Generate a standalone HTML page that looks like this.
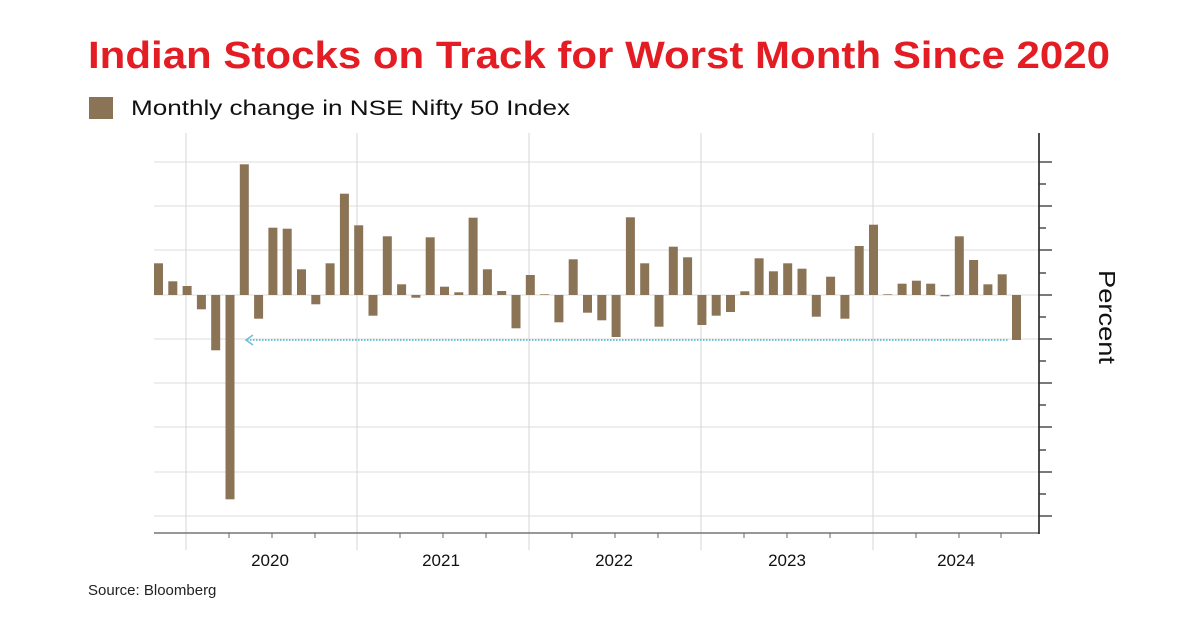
<!DOCTYPE html>
<html><head><meta charset="utf-8"><style>
html,body{margin:0;padding:0;background:#fff;}
svg{display:block;font-family:"Liberation Sans",sans-serif;}
</style></head><body>
<svg width="1200" height="628" viewBox="0 0 1200 628" xmlns="http://www.w3.org/2000/svg">
<text x="599" y="68" text-anchor="middle" font-size="38" font-weight="bold" fill="#e31d23" textLength="1022" lengthAdjust="spacingAndGlyphs">Indian Stocks on Track for Worst Month Since 2020</text>
<rect x="89" y="97" width="24" height="22" fill="#8b7355"/>
<text x="131" y="115" font-size="21" fill="#111" textLength="439" lengthAdjust="spacingAndGlyphs">Monthly change in NSE Nifty 50 Index</text>
<g stroke="#dcdcdc" stroke-width="1">
<line x1="154" y1="162" x2="1039" y2="162"/><line x1="154" y1="206" x2="1039" y2="206"/>
<line x1="154" y1="250" x2="1039" y2="250"/><line x1="154" y1="295" x2="1039" y2="295"/>
<line x1="154" y1="339" x2="1039" y2="339"/><line x1="154" y1="383" x2="1039" y2="383"/>
<line x1="154" y1="427" x2="1039" y2="427"/><line x1="154" y1="472" x2="1039" y2="472"/>
<line x1="154" y1="516" x2="1039" y2="516"/>
</g>
<g stroke="#d4d4d4" stroke-width="1">
<line x1="186" y1="133" x2="186" y2="550"/><line x1="357" y1="133" x2="357" y2="550"/>
<line x1="529" y1="133" x2="529" y2="550"/><line x1="701" y1="133" x2="701" y2="550"/>
<line x1="873" y1="133" x2="873" y2="550"/>
</g>
<line x1="154" y1="533" x2="1039" y2="533" stroke="#777" stroke-width="1.5"/>
<g stroke="#666" stroke-width="1">
<line x1="229" y1="533" x2="229" y2="538"/><line x1="272" y1="533" x2="272" y2="538"/><line x1="315" y1="533" x2="315" y2="538"/>
<line x1="400" y1="533" x2="400" y2="538"/><line x1="443" y1="533" x2="443" y2="538"/><line x1="486" y1="533" x2="486" y2="538"/>
<line x1="572" y1="533" x2="572" y2="538"/><line x1="615" y1="533" x2="615" y2="538"/><line x1="658" y1="533" x2="658" y2="538"/>
<line x1="744" y1="533" x2="744" y2="538"/><line x1="787" y1="533" x2="787" y2="538"/><line x1="830" y1="533" x2="830" y2="538"/>
<line x1="916" y1="533" x2="916" y2="538"/><line x1="959" y1="533" x2="959" y2="538"/><line x1="1001" y1="533" x2="1001" y2="538"/>
</g>
<line x1="1039" y1="133" x2="1039" y2="534" stroke="#111" stroke-width="1.5"/>
<g stroke="#333" stroke-width="1.3">
<line x1="1039" y1="162" x2="1052" y2="162"/><line x1="1039" y1="184" x2="1046" y2="184"/>
<line x1="1039" y1="206" x2="1052" y2="206"/><line x1="1039" y1="228" x2="1046" y2="228"/>
<line x1="1039" y1="250" x2="1052" y2="250"/><line x1="1039" y1="273" x2="1046" y2="273"/>
<line x1="1039" y1="295" x2="1052" y2="295"/><line x1="1039" y1="317" x2="1046" y2="317"/>
<line x1="1039" y1="339" x2="1052" y2="339"/><line x1="1039" y1="361" x2="1046" y2="361"/>
<line x1="1039" y1="383" x2="1052" y2="383"/><line x1="1039" y1="405" x2="1046" y2="405"/>
<line x1="1039" y1="427" x2="1052" y2="427"/><line x1="1039" y1="450" x2="1046" y2="450"/>
<line x1="1039" y1="472" x2="1052" y2="472"/><line x1="1039" y1="494" x2="1046" y2="494"/>
<line x1="1039" y1="516" x2="1052" y2="516"/>
</g>
<text transform="translate(1099,317) rotate(90)" text-anchor="middle" font-size="23" fill="#111" textLength="94" lengthAdjust="spacingAndGlyphs">Percent</text>
<g fill="#8b7355">
<rect x="154.0" y="263.3" width="9" height="31.7"/>
<rect x="168.3" y="281.3" width="9" height="13.7"/>
<rect x="182.6" y="286" width="9" height="9"/>
<rect x="196.9" y="295" width="9" height="14.3"/>
<rect x="211.2" y="295" width="9" height="55.3"/>
<rect x="225.5" y="295" width="9" height="204.3"/>
<rect x="239.8" y="164.3" width="9" height="130.7"/>
<rect x="254.1" y="295" width="9" height="23.7"/>
<rect x="268.4" y="227.7" width="9" height="67.3"/>
<rect x="282.7" y="228.7" width="9" height="66.3"/>
<rect x="297.0" y="269.3" width="9" height="25.7"/>
<rect x="311.3" y="295" width="9" height="9.3"/>
<rect x="325.6" y="263.3" width="9" height="31.7"/>
<rect x="339.9" y="193.7" width="9" height="101.3"/>
<rect x="354.2" y="225.3" width="9" height="69.7"/>
<rect x="368.5" y="295" width="9" height="20.7"/>
<rect x="382.8" y="236.3" width="9" height="58.7"/>
<rect x="397.1" y="284.3" width="9" height="10.7"/>
<rect x="411.4" y="295" width="9" height="2.7"/>
<rect x="425.7" y="237.3" width="9" height="57.7"/>
<rect x="440.0" y="286.7" width="9" height="8.3"/>
<rect x="454.3" y="292.3" width="9" height="2.7"/>
<rect x="468.6" y="217.7" width="9" height="77.3"/>
<rect x="482.9" y="269.3" width="9" height="25.7"/>
<rect x="497.2" y="291" width="9" height="4"/>
<rect x="511.5" y="295" width="9" height="33.3"/>
<rect x="525.8" y="275" width="9" height="20"/>
<rect x="540.1" y="294.3" width="9" height="0.7"/>
<rect x="554.4" y="295" width="9" height="27.3"/>
<rect x="568.7" y="259.3" width="9" height="35.7"/>
<rect x="583.0" y="295" width="9" height="17.7"/>
<rect x="597.3" y="295" width="9" height="25.3"/>
<rect x="611.6" y="295" width="9" height="42"/>
<rect x="625.9" y="217.3" width="9" height="77.7"/>
<rect x="640.2" y="263.3" width="9" height="31.7"/>
<rect x="654.5" y="295" width="9" height="31.7"/>
<rect x="668.8" y="246.7" width="9" height="48.3"/>
<rect x="683.1" y="257.3" width="9" height="37.7"/>
<rect x="697.4" y="295" width="9" height="30"/>
<rect x="711.7" y="295" width="9" height="20.7"/>
<rect x="726.0" y="295" width="9" height="17"/>
<rect x="740.3" y="291.3" width="9" height="3.7"/>
<rect x="754.6" y="258.3" width="9" height="36.7"/>
<rect x="768.9" y="271.3" width="9" height="23.7"/>
<rect x="783.2" y="263.3" width="9" height="31.7"/>
<rect x="797.5" y="268.7" width="9" height="26.3"/>
<rect x="811.8" y="295" width="9" height="21.7"/>
<rect x="826.1" y="276.7" width="9" height="18.3"/>
<rect x="840.4" y="295" width="9" height="23.7"/>
<rect x="854.7" y="246" width="9" height="49"/>
<rect x="869.0" y="224.7" width="9" height="70.3"/>
<rect x="883.3" y="294.3" width="9" height="0.7"/>
<rect x="897.6" y="283.7" width="9" height="11.3"/>
<rect x="911.9" y="280.7" width="9" height="14.3"/>
<rect x="926.2" y="283.7" width="9" height="11.3"/>
<rect x="940.5" y="295" width="9" height="1.3"/>
<rect x="954.8" y="236.3" width="9" height="58.7"/>
<rect x="969.1" y="260" width="9" height="35"/>
<rect x="983.4" y="284.3" width="9" height="10.7"/>
<rect x="997.7" y="274.3" width="9" height="20.7"/>
<rect x="1012.0" y="295" width="9" height="45"/>
</g>
<line x1="247" y1="340" x2="1009" y2="340" stroke="#6fbfd8" stroke-width="2" stroke-dasharray="1.5 1.5"/>
<polyline points="253,335 246,340 253,345" fill="none" stroke="#6fbfd8" stroke-width="1.5"/>
<g font-size="17" fill="#111" text-anchor="middle">
<text x="270" y="566">2020</text><text x="441" y="566">2021</text><text x="614" y="566">2022</text>
<text x="787" y="566">2023</text><text x="956" y="566">2024</text>
</g>
<text x="88" y="595" font-size="15" fill="#222">Source: Bloomberg</text>
</svg>
</body></html>
